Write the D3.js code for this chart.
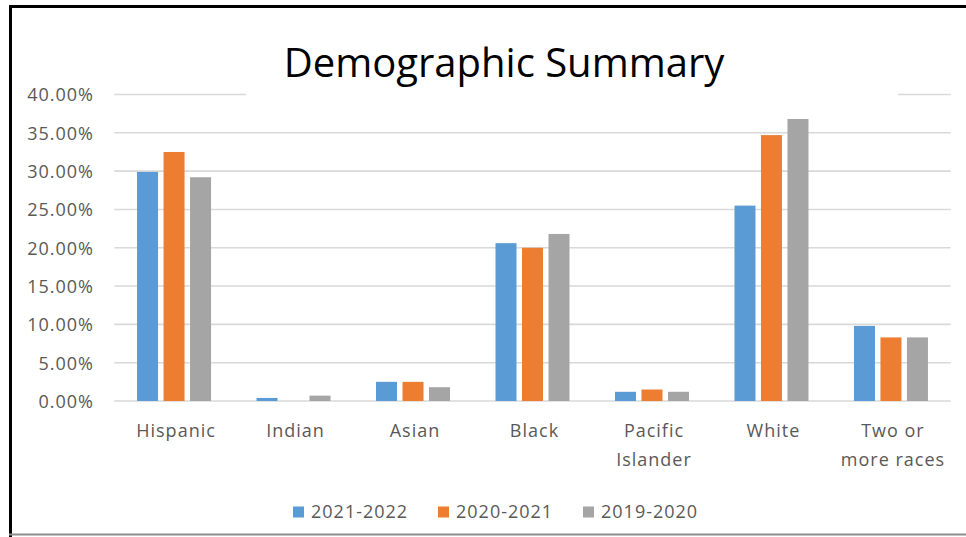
<!DOCTYPE html>
<html><head><meta charset="utf-8">
<script src="https://cdn.jsdelivr.net/npm/d3@7"></script>
<style>html,body{margin:0;padding:0;background:#fff;}svg{display:block;}</style>
</head><body>
<svg id="chart" width="966" height="537"></svg>
<script>
const categories = ["Hispanic","Indian","Asian","Black","Pacific Islander","White","Two or more races"];
const categoryLines = [["Hispanic"],["Indian"],["Asian"],["Black"],["Pacific","Islander"],["White"],["Two or","more races"]];
const seriesNames = ["2021-2022","2020-2021","2019-2020"];
const values2021_2022 = [29.9, 0.4, 2.5, 20.6, 1.2, 25.5, 9.8];
const values2020_2021 = [32.5, 0.0, 2.5, 20.0, 1.5, 34.7, 8.3];
const values2019_2020 = [29.2, 0.7, 1.8, 21.8, 1.2, 36.8, 8.3];
const yTicks = [0,5,10,15,20,25,30,35,40];
const colors = ["#5b9bd5","#ed7d31","#a5a5a5"];
const seriesValues = [values2021_2022, values2020_2021, values2019_2020];

const svg = d3.select("#chart");
const W = 966, H = 537;
svg.append("rect").attr("width",W).attr("height",H).attr("fill","#fff");

const plot = {left:114.3, right:950.7, top:94.5, bottom:401};
const x = d3.scaleBand().domain(categories).range([plot.left, plot.right]).padding(0);
const groupW = 74;
const xs = d3.scaleBand().domain(seriesNames).range([0, groupW]).paddingInner(0.2075).paddingOuter(0);
const y = d3.scaleLinear().domain([0,40]).range([plot.bottom, plot.top]);

const font = "'Open Sans', sans-serif";
const fs = 18, ls = "1.0px";

// gridlines
svg.append("g").selectAll("line").data(yTicks).join("line")
  .attr("x1", plot.left).attr("x2", plot.right)
  .attr("y1", d=>y(d)).attr("y2", d=>y(d))
  .attr("stroke","#d9d9d9").attr("stroke-width",1.6);

// y axis labels
const yAxis = d3.axisLeft(y).tickValues(yTicks).tickSize(0).tickPadding(0)
  .tickFormat(d => d.toFixed(2) + "%");
const gy = svg.append("g").attr("transform","translate(94,0)").call(yAxis);
gy.select(".domain").remove();
gy.selectAll("text").attr("font-family",font).attr("font-size",fs).attr("fill","#595959")
  .attr("letter-spacing",ls).attr("dy","0.36em");

// bars
const data = [];
categories.forEach((c,i)=>seriesNames.forEach((s,j)=>data.push({c, s, v: seriesValues[j][i], j})));
svg.append("g").selectAll("rect").data(data).join("rect")
  .attr("x", d => x(d.c) + (x.bandwidth()-groupW)/2 + xs(d.s))
  .attr("width", xs.bandwidth())
  .attr("y", d => y(d.v))
  .attr("height", d => y(0) - y(d.v))
  .attr("fill", d => colors[d.j]);

// x labels
const xl = svg.append("g").selectAll("text").data(categories).join("text")
  .attr("x", d => x(d) + x.bandwidth()/2 + 2)
  .attr("y", 437)
  .attr("text-anchor","middle")
  .attr("font-family",font).attr("font-size",fs).attr("fill","#595959").attr("letter-spacing",ls);
xl.each(function(d,i){
  const t = d3.select(this);
  categoryLines[i].forEach((ln,k)=>{
    t.append("tspan").attr("x", x(d)+x.bandwidth()/2+2).attr("dy", k===0?0:29).text(ln);
  });
});

// title with white box covering gridline
svg.append("rect").attr("x",246).attr("y",30).attr("width",652).attr("height",66).attr("fill","#fff");
svg.append("text").attr("x",504).attr("y",77).attr("text-anchor","middle")
  .attr("font-family","'Open Sans', sans-serif").attr("font-size",40).attr("fill","#000")
  .text("Demographic Summary");

// legend
const legendX = [293, 438, 583];
const lg = svg.append("g").selectAll("g").data(seriesNames).join("g")
  .attr("transform",(d,i)=>`translate(${legendX[i]},512)`);
lg.append("rect").attr("x",0).attr("y",-5.5).attr("width",11).attr("height",11).attr("fill",(d,i)=>colors[i]);
lg.append("text").attr("x",18).attr("y",0).attr("dy","0.36em")
  .attr("font-family",font).attr("font-size",fs).attr("fill","#595959").attr("letter-spacing",ls)
  .text(d=>d);

// borders
svg.append("line").attr("x1",10.5).attr("x2",10.5).attr("y1",5).attr("y2",H).attr("stroke","#000").attr("stroke-width",3);
svg.append("line").attr("x1",9).attr("x2",W).attr("y1",6.5).attr("y2",6.5).attr("stroke","#000").attr("stroke-width",3);
svg.append("line").attr("x1",9).attr("x2",W).attr("y1",534.5).attr("y2",534.5).attr("stroke","#8c8c8c").attr("stroke-width",2);
</script>
</body></html>
